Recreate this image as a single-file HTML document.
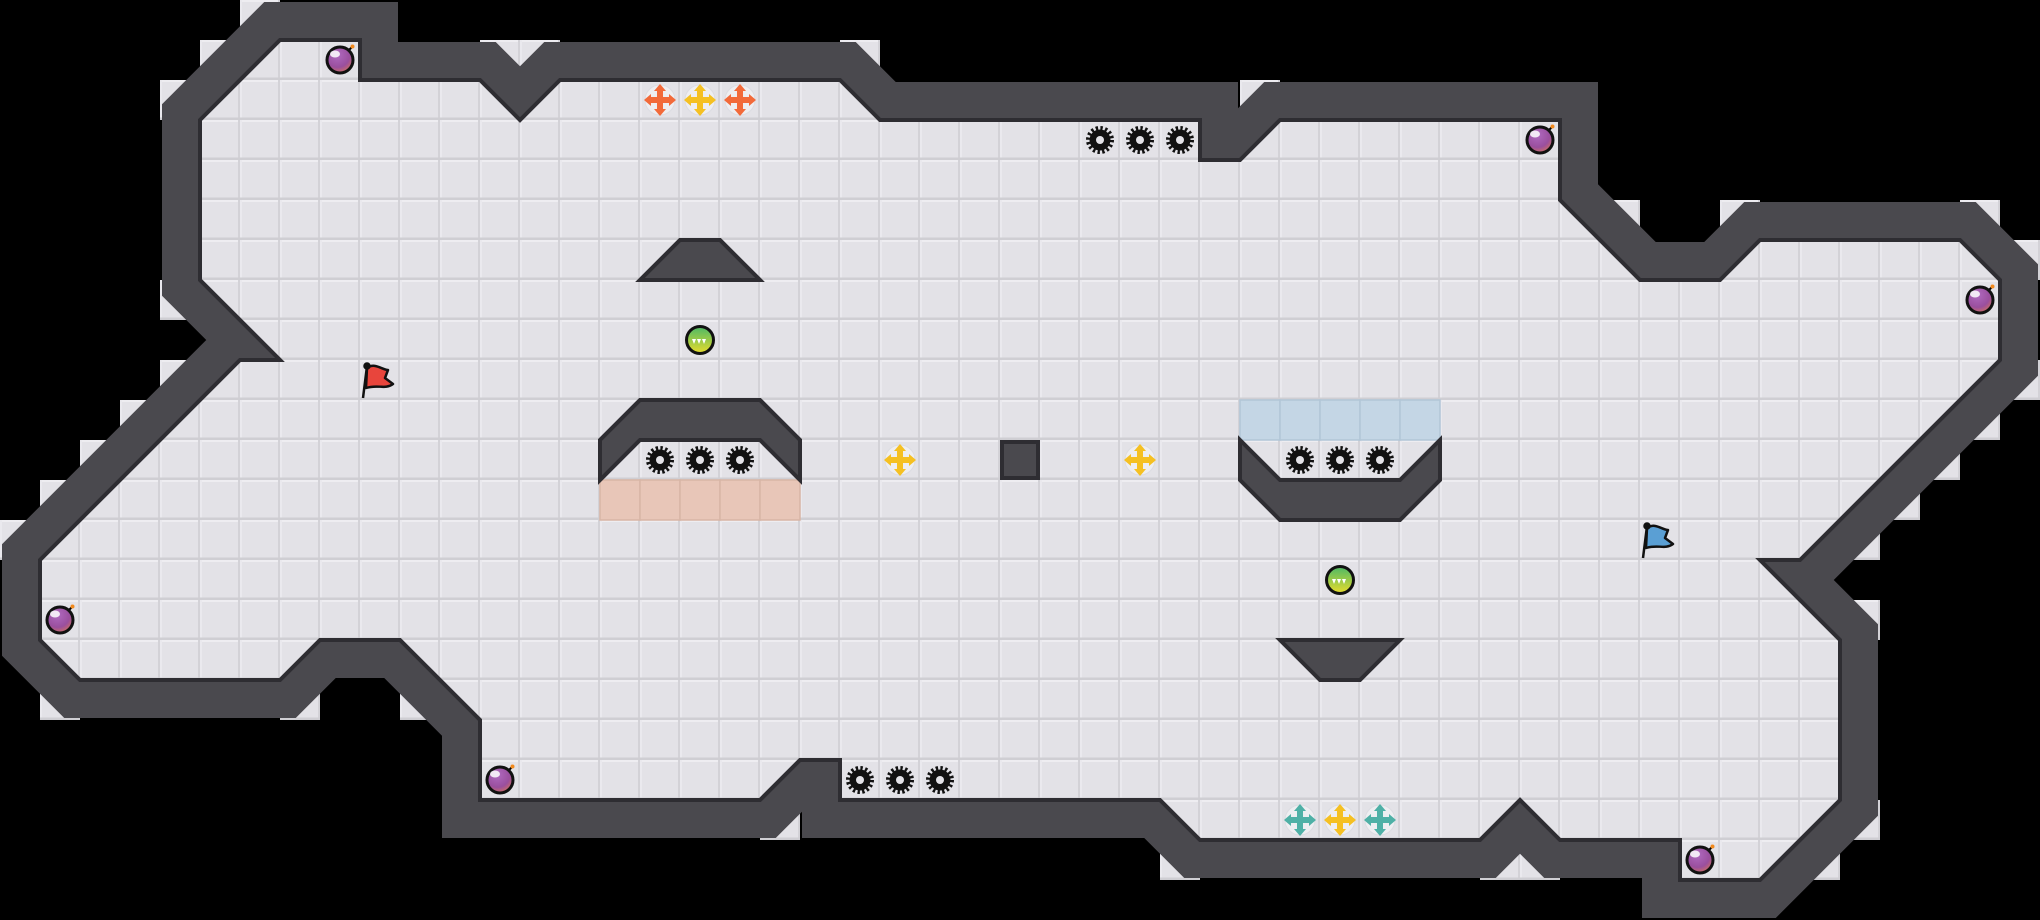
<!DOCTYPE html>
<html><head><meta charset="utf-8"><style>
html,body{margin:0;padding:0;background:#000;}
svg{display:block;}
</style></head><body>
<svg width="2040" height="920" viewBox="0 0 2040 920" xmlns="http://www.w3.org/2000/svg">
<defs>
<pattern id="tile" width="40" height="40" patternUnits="userSpaceOnUse">
<rect width="40" height="40" fill="#e3e2e7"/>
<rect x="0" y="0" width="40" height="2" fill="#eeedf1"/>
<rect x="0" y="0" width="2" height="40" fill="#eae9ee"/>
<rect x="38" y="0" width="2" height="40" fill="#d3d2d7"/>
<rect x="0" y="37.5" width="40" height="2.5" fill="#cfced3"/>
</pattern>
<radialGradient id="pg" cx="0.4" cy="0.3" r="0.8">
<stop offset="0" stop-color="#b06ac0"/><stop offset="0.6" stop-color="#9a4f9e"/><stop offset="1" stop-color="#e0784e"/>
</radialGradient>
<linearGradient id="gg" x1="0" y1="0" x2="0" y2="1">
<stop offset="0" stop-color="#4cb866"/><stop offset="1" stop-color="#e8dc2c"/>
</linearGradient>
<g id="pearl">
<path d="M8 -9 L12 -13" stroke="#000" stroke-width="2"/>
<circle cx="12.5" cy="-13.5" r="2" fill="#f28a1e"/>
<circle r="13" fill="url(#pg)" stroke="#111" stroke-width="3"/>
<ellipse cx="-5" cy="-6" rx="5" ry="3.5" fill="#fff" opacity="0.85"/>
</g>
<g id="orb">
<circle r="13.5" fill="url(#gg)" stroke="#111" stroke-width="3"/>
<path d="M-8 -1 L-4 -1 L-6 4 Z M-3 -1 L1 -1 L-1 4 Z M2 -1 L6 -1 L4 4 Z" fill="#fff"/>
</g>
<g id="gear">
<circle r="11.5" fill="none" stroke="#111" stroke-width="5" stroke-dasharray="2.26 2.26"/>
<circle r="10.5" fill="#111"/>
<circle r="4" fill="#e3e2e7"/>
</g>
<g id="cross">
<circle r="15" fill="#eeeef1" stroke="#dcdce2" stroke-width="1"/>
<rect x="-11" y="-3" width="22" height="6"/>
<rect x="-3" y="-11" width="6" height="22"/>
<path d="M-16 0 L-9 -6 L-9 6 Z M16 0 L9 -6 L9 6 Z M0 -16 L-6 -9 L6 -9 Z M0 16 L-6 9 L6 9 Z"/>
</g>
</defs>

<rect width="2040" height="920" fill="#000"/>

<!-- light cells outside diagonals -->
<g fill="url(#tile)">
<rect x="240" y="0" width="40" height="40"/><rect x="200" y="40" width="40" height="40"/><rect x="160" y="80" width="40" height="40"/>
<rect x="160" y="280" width="40" height="40"/>
<rect x="160" y="360" width="40" height="40"/><rect x="120" y="400" width="40" height="40"/><rect x="80" y="440" width="40" height="40"/><rect x="40" y="480" width="40" height="40"/><rect x="0" y="520" width="40" height="40"/>
<rect x="40" y="680" width="40" height="40"/><rect x="280" y="680" width="40" height="40"/><rect x="400" y="680" width="40" height="40"/>
<rect x="480" y="40" width="80" height="40"/><rect x="840" y="40" width="40" height="40"/><rect x="1240" y="80" width="40" height="40"/>
<rect x="1600" y="200" width="40" height="40"/><rect x="1720" y="200" width="40" height="40"/><rect x="1960" y="200" width="40" height="40"/><rect x="2000" y="240" width="40" height="40"/>
<rect x="2000" y="360" width="40" height="40"/><rect x="1960" y="400" width="40" height="40"/><rect x="1920" y="440" width="40" height="40"/><rect x="1880" y="480" width="40" height="40"/><rect x="1840" y="520" width="40" height="40"/>
<rect x="1840" y="600" width="40" height="40"/>
<rect x="1840" y="800" width="40" height="40"/><rect x="1800" y="840" width="40" height="40"/>
<rect x="1160" y="840" width="40" height="40"/><rect x="1480" y="840" width="80" height="40"/><rect x="760" y="800" width="40" height="40"/>
</g>

<!-- outer wall -->
<path id="room" d="M200,120 L280,40 L360,40 L360,80 L480,80 L520,120 L560,80 L840,80 L880,120 L1200,120 L1200,160 L1240,160 L1280,120 L1560,120 L1560,200 L1640,280 L1720,280 L1760,240 L1960,240 L2000,280 L2000,360 L1800,560 L1760,560 L1840,640 L1840,800 L1760,880 L1680,880 L1680,840 L1560,840 L1520,800 L1480,840 L1200,840 L1160,800 L840,800 L840,760 L800,760 L760,800 L480,800 L480,720 L400,640 L320,640 L280,680 L80,680 L40,640 L40,560 L240,360 L280,360 L200,280 Z" fill="#4a494e" stroke="#4a494e" stroke-width="76" stroke-linejoin="miter" stroke-miterlimit="4"/>
<path d="M200,120 L280,40 L360,40 L360,80 L480,80 L520,120 L560,80 L840,80 L880,120 L1200,120 L1200,160 L1240,160 L1280,120 L1560,120 L1560,200 L1640,280 L1720,280 L1760,240 L1960,240 L2000,280 L2000,360 L1800,560 L1760,560 L1840,640 L1840,800 L1760,880 L1680,880 L1680,840 L1560,840 L1520,800 L1480,840 L1200,840 L1160,800 L840,800 L840,760 L800,760 L760,800 L480,800 L480,720 L400,640 L320,640 L280,680 L80,680 L40,640 L40,560 L240,360 L280,360 L200,280 Z" fill="url(#tile)" stroke="#2e2d32" stroke-width="4" stroke-linejoin="miter"/>

<!-- colored tiles -->
<g fill="#e8c6b8" stroke="#d8b5a6" stroke-width="1.5">
<rect x="600" y="480" width="40" height="40"/><rect x="640" y="480" width="40" height="40"/><rect x="680" y="480" width="40" height="40"/><rect x="720" y="480" width="40" height="40"/><rect x="760" y="480" width="40" height="40"/>
</g>
<g fill="#c4d6e5" stroke="#b2c6d7" stroke-width="1.5">
<rect x="1240" y="400" width="40" height="40"/><rect x="1280" y="400" width="40" height="40"/><rect x="1320" y="400" width="40" height="40"/><rect x="1360" y="400" width="40" height="40"/><rect x="1400" y="400" width="40" height="40"/>
</g>

<!-- obstacles -->
<g fill="#4a494e" stroke="#2e2d32" stroke-width="4" stroke-linejoin="miter">
<path d="M680,240 L720,240 L760,280 L640,280 Z"/>
<path d="M600,480 L600,440 L640,400 L760,400 L800,440 L800,480 L760,440 L640,440 Z"/>
<rect x="1002" y="442" width="36" height="36"/>
<path d="M1240,440 L1280,480 L1400,480 L1440,440 L1440,480 L1400,520 L1280,520 L1240,480 Z"/>
<path d="M1280,640 L1400,640 L1360,680 L1320,680 Z"/>
</g>

<!-- gears -->
<use href="#gear" x="660" y="460"/><use href="#gear" x="700" y="460"/><use href="#gear" x="740" y="460"/>
<use href="#gear" x="1300" y="460"/><use href="#gear" x="1340" y="460"/><use href="#gear" x="1380" y="460"/>
<use href="#gear" x="1100" y="140"/><use href="#gear" x="1140" y="140"/><use href="#gear" x="1180" y="140"/>
<use href="#gear" x="860" y="780"/><use href="#gear" x="900" y="780"/><use href="#gear" x="940" y="780"/>

<!-- crosses -->
<use href="#cross" x="660" y="100" fill="#f26a3a"/><use href="#cross" x="700" y="100" fill="#f5c022"/><use href="#cross" x="740" y="100" fill="#f26a3a"/>
<use href="#cross" x="900" y="460" fill="#f5c022"/><use href="#cross" x="1140" y="460" fill="#f5c022"/>
<use href="#cross" x="1300" y="820" fill="#4fb0a6"/><use href="#cross" x="1340" y="820" fill="#f5c022"/><use href="#cross" x="1380" y="820" fill="#4fb0a6"/>

<!-- pearls -->
<use href="#pearl" x="340" y="60"/><use href="#pearl" x="1540" y="140"/><use href="#pearl" x="1980" y="300"/>
<use href="#pearl" x="60" y="620"/><use href="#pearl" x="500" y="780"/><use href="#pearl" x="1700" y="860"/>

<!-- orbs -->
<use href="#orb" x="700" y="340"/><use href="#orb" x="1340" y="580"/>

<!-- flags -->
<g stroke="#111" stroke-width="2.5" stroke-linejoin="round">
<line x1="363" y1="398" x2="367" y2="366"/>
<path d="M367,368 C375,362 382,370 388,370 L385,378 L393,384 C385,390 378,384 366,388 Z" fill="#e8453c"/>
<circle cx="367" cy="366" r="2.5" fill="#111"/>
<line x1="1643" y1="558" x2="1647" y2="526"/>
<path d="M1647,528 C1655,522 1662,530 1668,530 L1665,538 L1673,544 C1665,550 1658,544 1646,548 Z" fill="#5a9fd4"/>
<circle cx="1647" cy="526" r="2.5" fill="#111"/>
</g>
</svg>
</body></html>
